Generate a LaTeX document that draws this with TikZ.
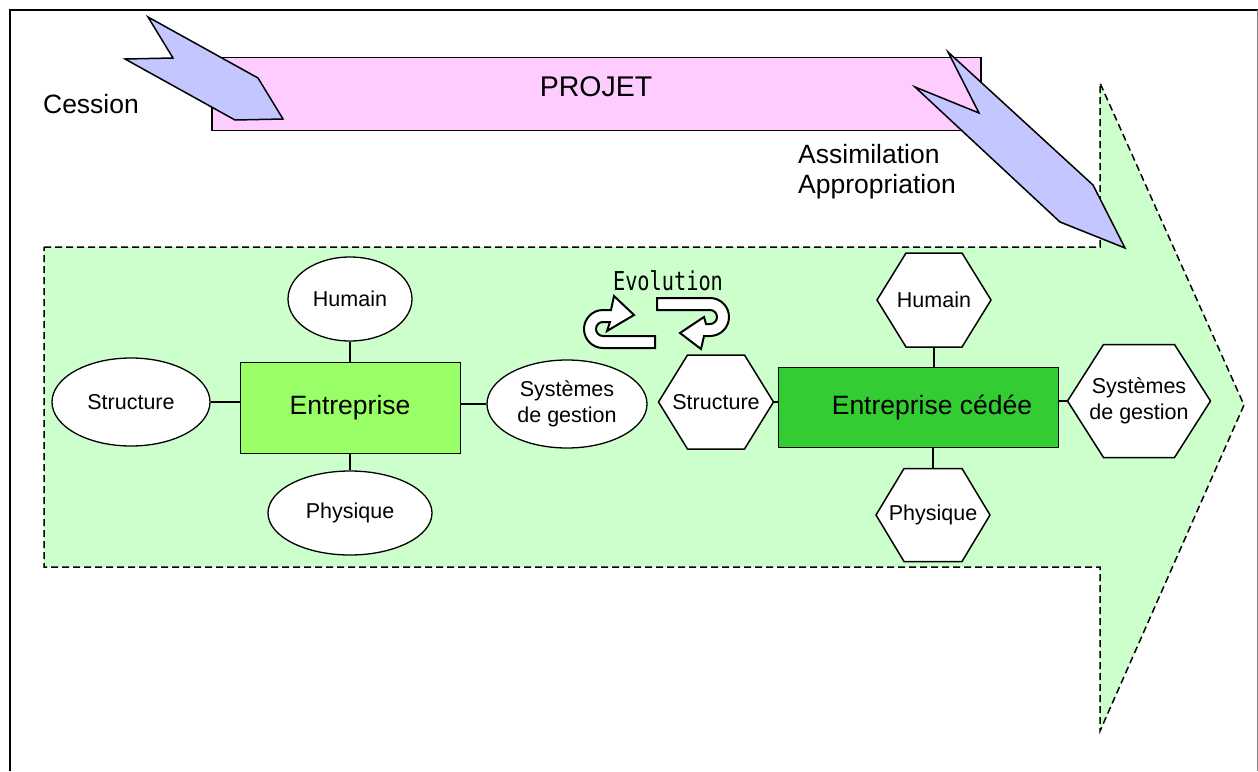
\documentclass[tikz,border=0pt]{standalone}
\usepackage{fontspec}
\setmainfont{Liberation Sans}
\newfontfamily\evofont{DejaVu Sans Mono}
\usetikzlibrary{shapes.geometric}
\definecolor{bggreen}{HTML}{CCFFCC}
\definecolor{projpink}{HTML}{FFCCFF}
\definecolor{boltblue}{HTML}{C4C6FF}
\definecolor{entgreen}{HTML}{99FF66}
\definecolor{cedgreen}{HTML}{33CC33}
\newcommand\hexnode[8]{% name, cx, cy, half width, half height, inset, font size, text
  \draw[hexline] (#2-#4,#3) -- (#2-#4+#6,#3-#5) -- (#2+#4-#6,#3-#5) -- (#2+#4,#3)
     -- (#2+#4-#6,#3+#5) -- (#2-#4+#6,#3+#5) -- cycle;
  \node[hextext, minimum width=2*#4, minimum height=2*#5] (#1) at (#2,#3) {#8};
}
\begin{document}
\begin{tikzpicture}[x=1pt,y=-1pt,
  small/.style={font=\fontsize{21.5}{26}\selectfont},
  big/.style={font=\fontsize{26.5}{30}\selectfont},
  ell/.style={ellipse, draw=black, line width=1.3pt, fill=white, inner sep=0pt, small, align=center},
  entbox/.style={rectangle, draw=black, line width=0.9pt, inner sep=0pt, big},
  hexline/.style={draw=black, line width=1.5pt, fill=white, line join=miter},
  hextext/.style={rectangle, inner sep=0pt, small, align=center},
  conn/.style={draw=black, line width=1.2pt},
  bolt/.style={draw=black, line width=1.5pt, fill=boltblue, line join=miter},
  evo/.style={draw=black, line width=2pt, fill=white, line join=miter},
  lbl/.style={font=\fontsize{26.5}{30}\selectfont, inner sep=0pt}]
\useasboundingbox (0,0) rectangle (1258,771);
% frame
\draw[line width=2pt] (9.5,771) -- (9.5,9.5) -- (1258,9.5);
\draw[gray, line width=1pt] (1257,9.5) -- (1257,771);
% big green arrow
\draw[dash pattern=on 7pt off 4pt, line width=1.5pt, fill=bggreen]
  (44,247) -- (1100,247) -- (1100,83) -- (1244,405) -- (1100,731) -- (1100,567) -- (44,567) -- cycle;
% projet
\node[draw=black, line width=1.5pt, fill=projpink, minimum width=769, minimum height=73, inner sep=0pt] (projet) at (596.5,94) {};
\node[font=\fontsize{28.5}{32}\selectfont, inner sep=0pt] (projettxt) at (596,87) {PROJET};
% bolts
\draw[bolt] (148,17) -- (173,58) -- (125,59) -- (235,120) -- (283,119) -- (258,78) -- cycle;
\draw[bolt] (948,52) -- (979,113) -- (915,87) -- (1060,222) -- (1125,248) -- (1093,185) -- cycle;
% labels
\node[lbl] (cession) at (91,104) {Cession};
\node[lbl, anchor=west, align=left] (assim) at (798,172) {Assimilation\\Appropriation};
% evolution
\node[inner sep=0pt] (evotxt) at (668,281) {\evofont\fontsize{26}{30}\selectfont\scalebox{0.78}[1]{Evolution}};
\draw[evo] (655,348) -- (603,348) arc[start angle=90, end angle=270, radius=19]
  -- (611,310) -- (614,296) -- (634,315) -- (607,331) -- (610,322) -- (603,322)
  arc[start angle=270, end angle=90, radius=7] -- (655,336) -- cycle;
\draw[evo] (657,298) -- (710,298) arc[start angle=270, end angle=450, radius=19]
  -- (704,336) -- (701,349) -- (680,333) -- (704,317) -- (706,324) -- (710,324)
  arc[start angle=90, end angle=-90, radius=7] -- (657,310) -- cycle;
% left group
\node[entbox, fill=entgreen, minimum width=220, minimum height=91] (ent) at (350,407.5) {\raisebox{5pt}{Entreprise}};
\node[ell, minimum width=124, minimum height=84] (hum) at (350,299) {Humain};
\node[ell, minimum width=158, minimum height=88] (str) at (131,402) {Structure};
\node[ell, minimum width=160, minimum height=88] (sys) at (567,404) {Systèmes\\de gestion};
\node[ell, minimum width=164, minimum height=84] (phy) at (350,513) {Physique};
\draw[conn] (hum.south) -- (hum.south |- ent.north);
\draw[conn] (phy.north) -- (phy.north |- ent.south);
\draw[conn] (str.east) -- (str.east -| ent.west);
\draw[conn] (sys.west) -- (sys.west -| ent.east);
% right group
\node[entbox, fill=cedgreen, minimum width=280, minimum height=80] (ced) at (918,407) {\raisebox{5pt}{\hspace*{28pt}Entreprise cédée}};
\hexnode{hhum}{934}{300}{57}{47}{29}{21}{Humain}
\hexnode{hstr}{716}{402}{57.5}{47}{29}{21}{Structure}
\hexnode{hsys}{1139}{401}{71.5}{56.5}{36}{21}{Systèmes\\de gestion}
\hexnode{hphy}{933}{515}{57}{46.5}{28}{21}{Physique}
\draw[conn] (hhum.south) -- (hhum.south |- ced.north);
\draw[conn] (hphy.north) -- (hphy.north |- ced.south);
\draw[conn] (hstr.east) -- (hstr.east -| ced.west);
\draw[conn] (hsys.west) -- (hsys.west -| ced.east);
\end{tikzpicture}
\end{document}
